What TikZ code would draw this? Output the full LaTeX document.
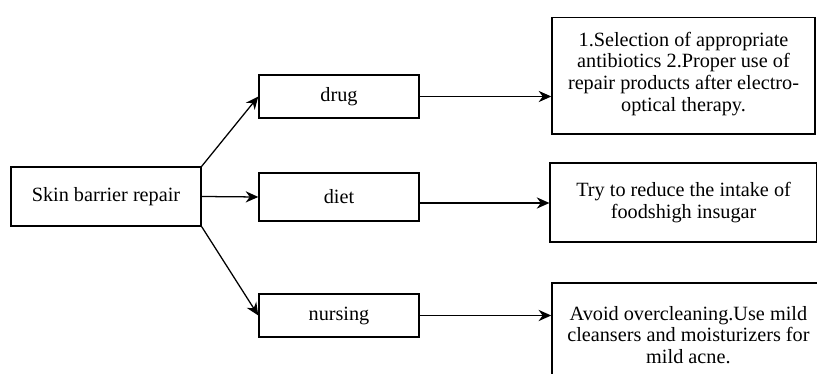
\documentclass[tikz,border=0pt]{standalone}
\usepackage{fontspec}
\setmainfont{Liberation Serif}
\usepackage{tikz}
\usetikzlibrary{arrows.meta}
\usetikzlibrary{positioning}
\tikzset{
    % 方框样式
    catbox/.style={
        draw,
        line width=1pt,
        minimum width=4cm,
        align=center,
        font=\fontsize{14.4}{15.4}\selectfont
    },
    notebox/.style={
        draw,
        line width=1pt,
        align=center,
        font=\fontsize{14.4}{15.4}\selectfont
    },
    % 黑色箭头
    blackarrow/.style={
        line width=0.9pt,
        black,
        ->,
        >={Stealth[length=9pt, width=8pt]}
    }
}
\begin{document}
\begin{tikzpicture}
	\useasboundingbox (0,0) rectangle (20.425,9.35);
	
	% 左侧方框
	\node[catbox,minimum width=4.75cm,minimum height=1.475cm] (root) at (2.65,4.4375) {Skin barrier repair};
	
	% 中间方框
	\node[catbox,minimum height=1.075cm] (drug) at (8.475,6.9375) {drug};
	\node[catbox,minimum height=1.2cm] (diet) at (8.475,4.425) {diet};
	\node[catbox,minimum height=1.075cm] (nursing) at (8.475,1.4625) {nursing};
	
	% 右侧方框
	\node[notebox,anchor=north,minimum width=6.575cm,inner ysep=0.36cm,text depth=0.21cm] (drugnote) at (17.0875,8.9325)
		{1.Selection of appropriate\\antibiotics 2.Proper use of\\repair products after electro-\\optical therapy.};
	\node[notebox,minimum width=6.675cm,minimum height=1.98cm] (dietnote) at (17.09,4.29)
		{Try to reduce the intake of\\foodshigh insugar};
	\node[notebox,minimum width=6.825cm,minimum height=2.6cm] (nursingnote) at (17.21,0.975)
		{Avoid overcleaning.Use mild\\cleansers and moisturizers for\\mild acne.};
	
	% 左侧箭头
	\draw[blackarrow] (root.north east) to (drug.west);
	\draw[blackarrow] (root.east) to (diet.west);
	\draw[blackarrow] (root.south east) to (nursing.west);
	
	% 右侧箭头
	\coordinate (dietout) at ([yshift=-0.15cm]diet.east);
	\draw[blackarrow] (drug.east) to (drug.east -| drugnote.west);
	\draw[blackarrow] (dietout) to (dietout -| dietnote.west);
	\draw[blackarrow] (nursing.east) to (nursing.east -| nursingnote.west);
\end{tikzpicture}
\end{document}
